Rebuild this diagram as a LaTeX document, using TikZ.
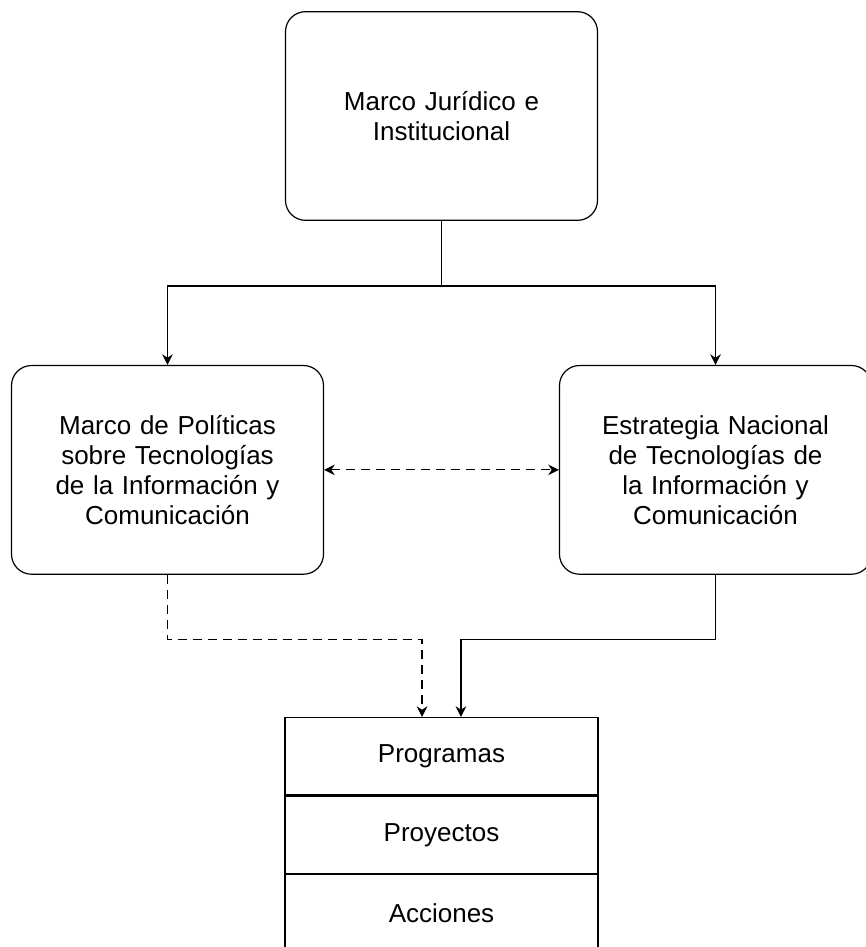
\documentclass[tikz,border=0pt]{standalone}
\usepackage{fontspec}
\setmainfont{Liberation Sans}
\usetikzlibrary{arrows.meta, positioning}

\begin{document}
\begin{tikzpicture}[x=0.75pt, y=-0.75pt, node distance=108pt]

% Estilos
\tikzset{
    marco/.style={rectangle, rounded corners=15pt, draw, line width=0.9pt, inner sep=0pt, text width=234pt, minimum height=156.5pt, align=center, font=\fontsize{19.5}{22.5}\selectfont},
    nivel/.style={rectangle, draw, line width=0.9pt, inner sep=0pt, minimum width=234.75pt, minimum height=58.1pt, font=\fontsize{19.5}{22.5}\selectfont},
    arrow/.style={-{Stealth[length=8pt, width=8pt]}, line width=0.9pt},
    darrow/.style={arrow, dash pattern=on 6.75pt off 4.5pt}
}

\useasboundingbox (0,0) rectangle (866,947);

% Nodos
\node (juridico) [marco] at (441.5,116) {Marco Jurídico e\\ Institucional};
\node (politicas) [marco, below=of juridico, xshift=-205.5pt] {Marco de Políticas\\ sobre Tecnologías\\ de la Información y\\ Comunicación};
\node (estrategia) [marco, below=of juridico, xshift=205.5pt] {Estrategia Nacional\\ de Tecnologías de\\ la Información y\\ Comunicación};
\node (programas) [nivel, below=372pt of juridico] {Programas};
\node (proyectos) [nivel, below=0pt of programas] {Proyectos};
\node (acciones) [nivel, below=0pt of proyectos] {Acciones};

\coordinate (entradaA) at ([xshift=-14.6pt]programas.north);
\coordinate (entradaB) at ([xshift=14.6pt]programas.north);

% Flechas
\draw [arrow] (juridico.south) -- ++(0,-48.75pt) -| (politicas.north);
\draw [arrow] (juridico.south) -- ++(0,-48.75pt) -| (estrategia.north);
\draw [darrow, {Stealth[length=8pt, width=8pt]}-{Stealth[length=8pt, width=8pt]}] (politicas.east) -- (estrategia.west);
\draw [darrow] (politicas.south) -- ++(0,-48.75pt) -| (entradaA);
\draw [arrow] (estrategia.south) -- ++(0,-48.75pt) -| (entradaB);

\end{tikzpicture}
\end{document}
